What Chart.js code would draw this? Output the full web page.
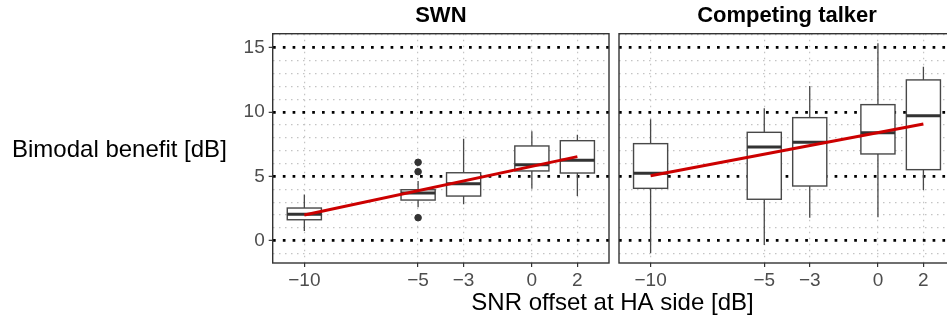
<!DOCTYPE html>
<html>
<head>
<meta charset="utf-8">
<script src="https://cdn.jsdelivr.net/npm/chart.js@4.4.1/dist/chart.umd.min.js"></script>
<style>
  html, body { margin: 0; padding: 0; background: #fff; overflow: hidden; }
  #wrap { position: relative; width: 960px; height: 322px; }
  #wrap canvas { position: absolute; left: 0; top: 0; }
</style>
</head>
<body>
<div id="wrap">
  <canvas id="swn" width="960" height="322"></canvas>
  <canvas id="ct" width="960" height="322"></canvas>
</div>
<script>
// SNR offsets (x categories)
const snrOffsets = [-10, -5, -3, 0, 2]
const yTickValues = [0, 5, 10, 15]

// SWN box statistics
const swnWhiskerLow = [0.75, 2.6, 2.83, 4.04, 3.47]
const swnQ1 = [1.63, 3.16, 3.47, 5.42, 5.26]
const swnMedian = [2.05, 3.71, 4.43, 5.9, 6.25]
const swnQ3 = [2.54, 3.96, 5.28, 7.36, 7.77]
const swnWhiskerHigh = [3.6, 4.64, 7.93, 8.5, 8.24]
const swnOutlierX = [-5, -5, -5]
const swnOutlierY = [6.09, 5.36, 1.79]

// Competing talker box statistics
const ctWhiskerLow = [-0.98, -0.33, 1.79, 1.82, 3.94]
const ctQ1 = [4.07, 3.22, 4.25, 6.74, 5.52]
const ctMedian = [5.24, 7.28, 7.65, 8.39, 9.71]
const ctQ3 = [7.54, 8.42, 9.56, 10.57, 12.49]
const ctWhiskerHigh = [9.43, 10.29, 12.02, 15.34, 13.52]

// fitted lines (ends)
const fitX = [-10, 2]
const swnFit = [2.0, 6.53]
const ctFit = [5.05, 9.07]

const FONT = "'Liberation Sans', Arial, Helvetica, sans-serif"
const DARK = '#333333'
const BOXLINE = '#484848'
const BOX_HALF = 0.75

const minusLabel = (v) => (v < 0 ? '\u2212' + Math.abs(v) : String(v))

function boxPlugin(low, q1, med, q3, high) {
    return {
        id: 'boxes',
        beforeDatasetsDraw(chart) {
            const { ctx, scales } = chart
            const x = scales.x
            const y = scales.y
            ctx.save()
            snrOffsets.forEach((v, i) => {
                const cx = x.getPixelForValue(v)
                const l = x.getPixelForValue(v - BOX_HALF)
                const r = x.getPixelForValue(v + BOX_HALF)
                ctx.strokeStyle = BOXLINE
                ctx.lineWidth = 1.3
                ctx.beginPath()
                ctx.moveTo(cx, y.getPixelForValue(high[i]))
                ctx.lineTo(cx, y.getPixelForValue(q3[i]))
                ctx.moveTo(cx, y.getPixelForValue(q1[i]))
                ctx.lineTo(cx, y.getPixelForValue(low[i]))
                ctx.stroke()
                const top = y.getPixelForValue(q3[i])
                const bot = y.getPixelForValue(q1[i])
                ctx.fillStyle = '#ffffff'
                ctx.fillRect(l, top, r - l, bot - top)
                ctx.lineWidth = 1.4
                ctx.strokeRect(l, top, r - l, bot - top)
                ctx.strokeStyle = DARK
                ctx.lineWidth = 3
                ctx.beginPath()
                const m = y.getPixelForValue(med[i])
                ctx.moveTo(l, m)
                ctx.lineTo(r, m)
                ctx.stroke()
            })
            ctx.restore()
        },
        afterDraw(chart) {
            const { ctx, chartArea } = chart
            ctx.save()
            ctx.strokeStyle = DARK
            ctx.lineWidth = 1.4
            ctx.strokeRect(chartArea.left, chartArea.top, chartArea.right - chartArea.left, chartArea.bottom - chartArea.top)
            ctx.restore()
        },
    }
}

const textPlugin = (draw) => ({ id: 'texts', afterDraw: (chart) => draw(chart.ctx) })

function makeOptions(title, yWidth, showY) {
    return {
        responsive: false,
        animation: false,
        layout: { padding: { left: 0, right: showY ? 351 : 5, top: 0, bottom: 0 } },
        plugins: {
            legend: { display: false },
            tooltip: { enabled: false },
            title: {
                display: true,
                text: title,
                fullSize: false,
                color: '#000',
                font: { family: FONT, size: 22, weight: 'bold' },
                padding: { top: 3, bottom: 4.3 },
            },
        },
        scales: {
            x: {
                type: 'linear',
                min: -11.39,
                max: 3.39,
                afterBuildTicks: (s) => { s.ticks = snrOffsets.map((v) => ({ value: v })) },
                afterFit: (s) => { s.height = 59 },
                grid: {
                    color: '#c4c4c4',
                    lineWidth: 1.2,
                    tickLength: 4,
                    tickColor: DARK,
                    tickWidth: 1.2,
                },
                border: { display: false, dash: [1.5, 4.5] },
                ticks: {
                    autoSkip: false,
                    color: '#4d4d4d',
                    padding: 2,
                    maxRotation: 0,
                    font: { family: FONT, size: 19 },
                    callback: (v) => minusLabel(v),
                },
            },
            y: {
                min: -1.73,
                max: 16.08,
                afterBuildTicks: (s) => {
                    const t = []
                    for (let v = -1; v <= 16; v++) t.push({ value: v })
                    s.ticks = t
                },
                afterFit: (s) => { s.width = yWidth },
                grid: {
                    color: (c) => (yTickValues.includes(c.tick.value) ? '#000000' : '#c4c4c4'),
                    lineWidth: (c) => (yTickValues.includes(c.tick.value) ? 2.7 : 1.2),
                    tickLength: showY ? 4 : 0,
                    tickColor: (c) => (showY && yTickValues.includes(c.tick.value) ? DARK : 'rgba(0,0,0,0)'),
                    tickWidth: 1.2,
                },
                border: {
                    display: false,
                    dash: (c) => (yTickValues.includes(c.tick.value) ? [2.7, 7.1] : [1.5, 4.5]),
                },
                ticks: {
                    autoSkip: false,
                    color: '#4d4d4d',
                    padding: 4,
                    font: { family: FONT, size: 19 },
                    callback: (v) => (showY && yTickValues.includes(v) ? minusLabel(v) : ''),
                },
            },
        },
    }
}

new Chart(document.getElementById('swn').getContext('2d'), {
    type: 'scatter',
    data: {
        datasets: [
            {
                type: 'line',
                data: fitX.map((v, i) => ({ x: v, y: swnFit[i] })),
                borderColor: '#cc0000',
                borderWidth: 3,
                pointRadius: 0,
            },
            {
                data: swnOutlierX.map((v, i) => ({ x: v, y: swnOutlierY[i] })),
                backgroundColor: DARK,
                borderColor: DARK,
                pointRadius: 3.3,
            },
        ],
    },
    options: makeOptions('SWN', 272.7, true),
    plugins: [
        boxPlugin(swnWhiskerLow, swnQ1, swnMedian, swnQ3, swnWhiskerHigh),
        textPlugin((ctx) => {
            ctx.save()
            ctx.fillStyle = '#000'
            ctx.font = '24px ' + FONT
            ctx.textAlign = 'left'
            ctx.textBaseline = 'alphabetic'
            ctx.fillText('Bimodal benefit [dB]', 12, 156.5)
            ctx.restore()
        }),
    ],
})

new Chart(document.getElementById('ct').getContext('2d'), {
    type: 'scatter',
    data: {
        datasets: [
            {
                type: 'line',
                data: fitX.map((v, i) => ({ x: v, y: ctFit[i] })),
                borderColor: '#cc0000',
                borderWidth: 3,
                pointRadius: 0,
            },
        ],
    },
    options: makeOptions('Competing talker', 619, false),
    plugins: [
        boxPlugin(ctWhiskerLow, ctQ1, ctMedian, ctQ3, ctWhiskerHigh),
        textPlugin((ctx) => {
            ctx.save()
            ctx.fillStyle = '#000'
            ctx.font = '24px ' + FONT
            ctx.textAlign = 'center'
            ctx.textBaseline = 'alphabetic'
            ctx.fillText('SNR offset at HA side [dB]', 612.5, 310)
            ctx.restore()
        }),
    ],
})
</script>
</body>
</html>
